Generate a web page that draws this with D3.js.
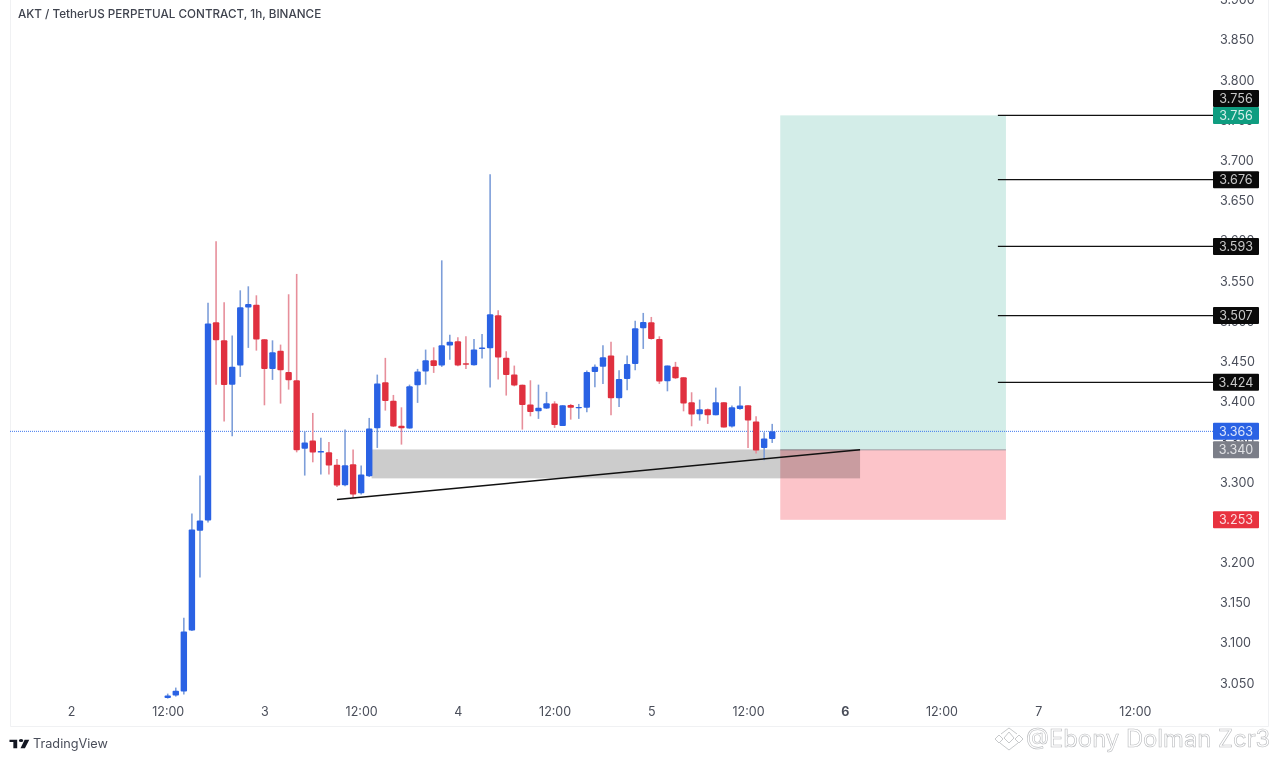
<!DOCTYPE html>
<html>
<head>
<meta charset="utf-8">
<script src="https://cdn.jsdelivr.net/npm/d3@7"></script>
<style>
html, body { margin: 0; padding: 0; background: #fff; }
svg { display: block; filter: blur(0.4px); }
text { font-family: Inter, "Liberation Sans", sans-serif; }
</style>
</head>
<body>
<script>
const width = 1279;
const height = 760;

// candles, one per hour, first one is 12:00 on day 2
const firstHour = 12;
const opens = [3.0312,3.0343,3.0393,3.1152,3.2395,3.2520,3.4986,3.4762,3.4211,3.4448,3.5169,3.5206,3.4775,3.4407,3.4631,3.4369,3.4265,3.3415,3.3515,3.3366,3.3369,3.3213,3.2959,3.3220,3.2859,3.3071,3.3668,3.4240,3.4012,3.3701,3.3664,3.4203,3.4373,3.4514,3.4448,3.4697,3.4750,3.4476,3.4451,3.4663,3.4663,3.5073,3.4544,3.4336,3.4211,3.3963,3.3879,3.3913,3.3975,3.3698,3.3959,3.3922,3.3922,3.4369,3.4432,3.4572,3.4041,3.4282,3.4469,3.4912,3.4986,3.4780,3.4252,3.4432,3.4302,3.3991,3.3842,3.3904,3.3830,3.3991,3.3689,3.3909,3.3954,3.3751,3.3424,3.3536];
const highs = [3.0368,3.0443,3.1313,3.2607,3.3080,3.5231,3.5994,3.5235,3.4821,3.5384,3.5434,3.5322,3.4775,3.4762,3.4709,3.5335,3.5588,3.3631,3.3859,3.3549,3.3499,3.3287,3.3652,3.3403,3.3204,3.3797,3.4336,3.4544,3.4083,3.3929,3.4211,3.4407,3.4647,3.4675,3.5757,3.4830,3.4800,3.4812,3.4780,3.4842,3.6827,3.5136,3.4626,3.4448,3.4211,3.4265,3.4211,3.4121,3.4004,3.3954,3.3971,3.3971,3.4386,3.4460,3.4700,3.4743,3.4389,3.4572,3.5007,3.5103,3.5053,3.4812,3.4448,3.4494,3.4302,3.4116,3.4025,3.3913,3.4174,3.3991,3.3950,3.4190,3.3954,3.3817,3.3618,3.3723];
const lows = [3.0306,3.0331,3.0356,3.1146,3.1811,3.2495,3.4211,3.3751,3.3568,3.4307,3.4668,3.4634,3.3954,3.4270,3.3975,3.4149,3.3369,3.3080,3.3245,3.3092,3.3092,3.2939,3.2947,3.2802,3.2843,3.3063,3.3424,3.3888,3.3685,3.3465,3.3664,3.3984,3.4211,3.4357,3.4432,3.4522,3.4439,3.4407,3.4448,3.4535,3.4174,3.4274,3.4075,3.4190,3.3652,3.3817,3.3785,3.3909,3.3673,3.3698,3.3776,3.3785,3.3867,3.4178,3.4220,3.3830,3.3934,3.4141,3.4389,3.4655,3.4771,3.4220,3.4128,3.4282,3.3879,3.3693,3.3764,3.3723,3.3830,3.3677,3.3677,3.3900,3.3424,3.3353,3.3270,3.3486];
const closes = [3.0343,3.0405,3.1139,3.2408,3.2520,3.4970,3.4762,3.4208,3.4435,3.5173,3.5215,3.4771,3.4407,3.4613,3.4389,3.4265,3.3394,3.3490,3.3366,3.3387,3.3204,3.2955,3.3208,3.2843,3.3092,3.3664,3.4224,3.4009,3.3689,3.3668,3.4190,3.4373,3.4514,3.4444,3.4700,3.4743,3.4448,3.4464,3.4647,3.4672,3.5086,3.4547,3.4332,3.4199,3.3959,3.3872,3.3925,3.3979,3.3710,3.3954,3.3925,3.3934,3.4369,3.4435,3.4551,3.4041,3.4282,3.4469,3.4912,3.4991,3.4780,3.4249,3.4448,3.4290,3.3975,3.3838,3.3904,3.3830,3.3991,3.3677,3.3929,3.3950,3.3764,3.3391,3.3540,3.3631];

const priceTicks = d3.range(3.05, 3.901, 0.05);
const timeTicks = [0, 12, 24, 36, 48, 60, 72, 84, 96, 108, 120, 132];
const timeLabels = ["2", "12:00", "3", "12:00", "4", "12:00", "5", "12:00", "6", "12:00", "7", "12:00"];

// long position tool
const entry = 3.340;
const target = 3.756;
const stop = 3.253;
const positionHours = [88, 116];
const targetLevels = [3.676, 3.593, 3.507, 3.424];
const lastPrice = 3.363;

// hand drawn zone and trend line
const zoneHours = [37.3, 97.9];
const zonePrices = [3.3405, 3.3045];
const trendHours = [33, 97.9];
const trendPrices = [3.2781, 3.3400];

const x = d3.scaleLinear().domain([0, 132]).range([71, 1134.9]);
const y = d3.scaleLinear().domain([3.05, 3.85]).range([683, 39.8]);

const svg = d3.select("body")
    .append("svg")
    .attr("width", width)
    .attr("height", height);

svg.append("rect").attr("width", width).attr("height", height).attr("fill", "#fff");

// pane frame
svg.append("path")
    .attr("d", "M10.5,0V726.5H1268.5V0")
    .attr("fill", "none")
    .attr("stroke", "#f0f1f3");

// position boxes
svg.append("rect")
    .attr("x", x(positionHours[0])).attr("y", y(target))
    .attr("width", x(positionHours[1]) - x(positionHours[0]))
    .attr("height", y(entry) - y(target))
    .attr("fill", "#d3ede8");
svg.append("rect")
    .attr("x", x(positionHours[0])).attr("y", y(entry))
    .attr("width", x(positionHours[1]) - x(positionHours[0]))
    .attr("height", y(stop) - y(entry))
    .attr("fill", "#fcc4c9");
svg.append("line")
    .attr("x1", x(positionHours[0])).attr("x2", x(positionHours[1]))
    .attr("y1", y(entry)).attr("y2", y(entry))
    .attr("stroke", "#8a8d94").attr("stroke-width", 0.8);

// support zone
svg.append("rect")
    .attr("x", x(zoneHours[0])).attr("y", y(zonePrices[0]))
    .attr("width", x(zoneHours[1]) - x(zoneHours[0]))
    .attr("height", y(zonePrices[1]) - y(zonePrices[0]))
    .attr("fill", "#000").attr("fill-opacity", 0.2);

// last price line
svg.append("line")
    .attr("x1", 10).attr("x2", 1213)
    .attr("y1", y(lastPrice)).attr("y2", y(lastPrice))
    .attr("stroke", "#3f78ee").attr("stroke-width", 1)
    .attr("stroke-dasharray", "1,1");

// candles
const candles = opens.map((o, i) => ({
    hour: firstHour + i, open: o, high: highs[i], low: lows[i], close: closes[i]
}));
const up = d => d.close >= d.open;

svg.selectAll("line.wick")
    .data(candles)
    .enter()
    .append("line")
    .attr("class", "wick")
    .attr("x1", d => x(d.hour)).attr("x2", d => x(d.hour))
    .attr("y1", d => y(d.high)).attr("y2", d => y(d.low))
    .attr("stroke", d => up(d) ? "#7d9ed9" : "#e78f9b")
    .attr("stroke-width", 1.6);

svg.selectAll("rect.body")
    .data(candles)
    .enter()
    .append("rect")
    .attr("class", "body")
    .attr("x", d => x(d.hour) - 3.2)
    .attr("y", d => y(Math.max(d.open, d.close)))
    .attr("width", 6.4)
    .attr("height", d => Math.max(1.4, Math.abs(y(d.open) - y(d.close))))
    .attr("rx", 1)
    .attr("fill", d => up(d) ? "#2a62e4" : "#e0303f");

// trend line
svg.append("line")
    .attr("x1", x(trendHours[0])).attr("x2", x(trendHours[1]))
    .attr("y1", y(trendPrices[0])).attr("y2", y(trendPrices[1]))
    .attr("stroke", "#111").attr("stroke-width", 1.5);

// target lines
svg.selectAll("line.level")
    .data([target].concat(targetLevels))
    .enter()
    .append("line")
    .attr("class", "level")
    .attr("x1", x(115)).attr("x2", 1213)
    .attr("y1", d => y(d)).attr("y2", d => y(d))
    .attr("stroke", "#111").attr("stroke-width", 1.2);

// axes
const priceAxis = d3.axisRight(y)
    .tickValues(priceTicks)
    .tickFormat(d3.format(".3f"))
    .tickSize(0)
    .tickPadding(0);
const priceG = svg.append("g").attr("transform", "translate(1220,0)").call(priceAxis);
priceG.select(".domain").remove();
priceG.selectAll("text").attr("font-size", 12.6).attr("fill", "#4a4e5a").attr("font-family", "Inter");

const timeAxis = d3.axisBottom(x)
    .tickValues(timeTicks)
    .tickFormat((d, i) => timeLabels[i])
    .tickSize(0)
    .tickPadding(0);
const timeG = svg.append("g").attr("transform", "translate(0,707)").call(timeAxis);
timeG.select(".domain").remove();
timeG.selectAll("text")
    .attr("font-size", 12.5).attr("fill", "#4a4e5a").attr("font-family", "Inter")
    .attr("font-weight", d => d === 96 ? 700 : 400);

// price tags on the axis
const tags = [
    { label: "3.756", price: target, shift: -17, fill: "#0a0a0a", color: "#c8c8c8" },
    { label: "3.756", price: target, shift: 0, fill: "#0f9d80", color: "#d5efe9" },
    { label: "3.676", price: 3.676, shift: 0, fill: "#0a0a0a", color: "#c8c8c8" },
    { label: "3.593", price: 3.593, shift: 0, fill: "#0a0a0a", color: "#c8c8c8" },
    { label: "3.507", price: 3.507, shift: 0, fill: "#0a0a0a", color: "#c8c8c8" },
    { label: "3.424", price: 3.424, shift: 0, fill: "#0a0a0a", color: "#c8c8c8" },
    { label: "3.363", price: lastPrice, shift: 0, fill: "#2a62e4", color: "#dbe5fb" },
    { label: "3.340", price: entry, shift: 0, fill: "#7b7e88", color: "#e2e3e6" },
    { label: "3.253", price: stop, shift: 0, fill: "#e8323f", color: "#fbdde0" }
];
const tagG = svg.selectAll("g.tag")
    .data(tags)
    .enter()
    .append("g")
    .attr("class", "tag")
    .attr("transform", d => `translate(1213,${y(d.price) + d.shift})`);
tagG.append("rect")
    .attr("y", -8.5).attr("width", 46).attr("height", 17).attr("rx", 1)
    .attr("fill", d => d.fill);
tagG.append("text")
    .attr("x", 23).attr("dy", "0.36em")
    .attr("text-anchor", "middle")
    .attr("font-size", 12.6)
    .attr("fill", d => d.color)
    .text(d => d.label);

// title
svg.append("text")
    .attr("x", 18).attr("y", 17.5)
    .attr("font-size", 11.7).attr("font-weight", 500).attr("fill", "#3f434e")
    .text("AKT / TetherUS PERPETUAL CONTRACT, 1h, BINANCE");

// TradingView logo
svg.append("path")
    .attr("transform", "translate(9.5,737.5) scale(0.55,0.38)")
    .attr("d", "M14 6H0v6h7v16h7V6Zm14 22H20l7.5-22H36l-8 22Zm-7-16a4 4 0 1 0 0-8 4 4 0 0 0 0 8Z")
    .attr("fill", "#131722");
svg.append("text")
    .attr("x", 33).attr("y", 748)
    .attr("font-size", 12.7).attr("fill", "#4a4e5a")
    .text("TradingView");

// watermark
const mark = svg.append("g")
    .attr("fill", "none").attr("stroke", "#b9bbbe").attr("stroke-width", 0.8);
mark.append("path").attr("d", "M1001,734L1009,728L1017,734M1009,732L1004,738L1009,743L1014,738Z");
mark.append("path").attr("d", "M995,739L999,735L1003,739L999,743ZM1015,739L1019,735L1023,739L1019,743Z");
mark.append("path").attr("d", "M1000,743L1009,750L1018,743");
svg.append("text")
    .attr("x", 1026).attr("y", 746.5)
    .attr("font-size", 23.8).attr("font-family", "Open Sans")
    .attr("fill", "#fff").attr("stroke", "#b9bbbe").attr("stroke-width", 0.6)
    .text("@Ebony Dolman Zcr3");
</script>
</body>
</html>
